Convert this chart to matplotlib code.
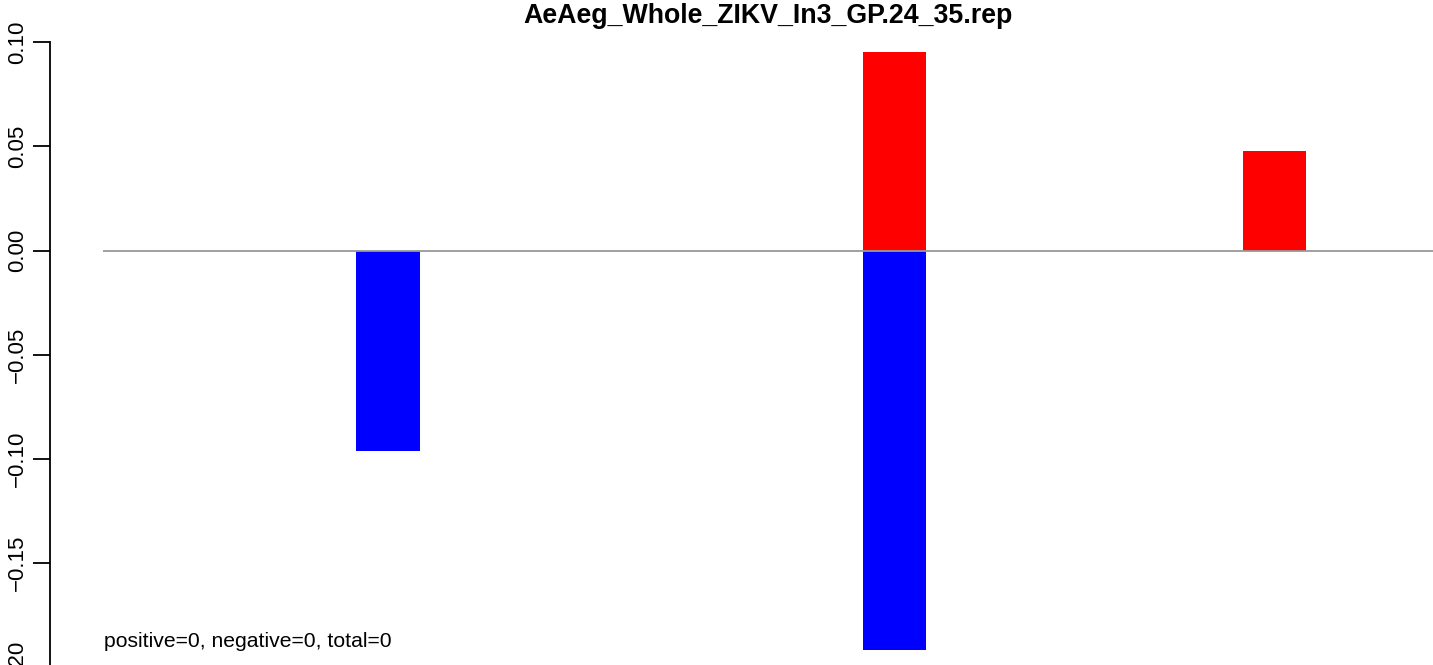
import numpy as np
import matplotlib
matplotlib.use("Agg")
import matplotlib.pyplot as plt

# values
title = "AeAeg_Whole_ZIKV_In3_GP.24_35.rep"
positions = [6, 14, 20]
pos_vals = [0.0, 0.0952, 0.0477]
neg_vals = [-0.096, -0.1916, 0.0]
y_ticks = [-0.20, -0.15, -0.10, -0.05, 0.00, 0.05, 0.10]
y_tick_labels = ["\u22120.20", "\u22120.15", "\u22120.10", "\u22120.05", "0.00", "0.05", "0.10"]
note = "positive=0, negative=0, total=0"

plt.rcParams["font.family"] = ["Liberation Sans", "DejaVu Sans"]

W, H = 1433, 665
fig = plt.figure(figsize=(W / 100, H / 100), dpi=100)

# axes spans pixel x 50..1433, y 42..680 (bottom runs past the figure)
ax = fig.add_axes([50 / W, (H - 680) / H, 1383 / W, 638 / H])
ax.set_xlim(0.660, 22.509)
ax.set_ylim(0.10 - 638 / 2085, 0.10)

ax.bar(positions, pos_vals, width=1.0, color="red", linewidth=0)
ax.bar(positions, neg_vals, width=1.0, color="blue", linewidth=0)
ax.hlines(0, 1.5, 22.6, color="#999999", linewidth=1.3, zorder=3)

ax.text(1.52, -0.1875, note, fontsize=15.2, ha="left", va="center")

for side in ["top", "right", "bottom"]:
    ax.spines[side].set_visible(False)
ax.spines["left"].set_bounds(-0.20, 0.10)
ax.spines["left"].set_linewidth(1.3)
ax.set_xticks([])
ax.set_yticks(y_ticks)
ax.set_yticklabels(y_tick_labels, rotation=90, va="center", ha="right")
ax.tick_params(axis="y", length=12, width=1.3, pad=4, labelsize=16)

fig.text(768 / W, 1 - 16 / H, title, ha="center", va="center",
         fontsize=19.3, fontweight="bold")

fig.savefig("out.png", dpi=100)
